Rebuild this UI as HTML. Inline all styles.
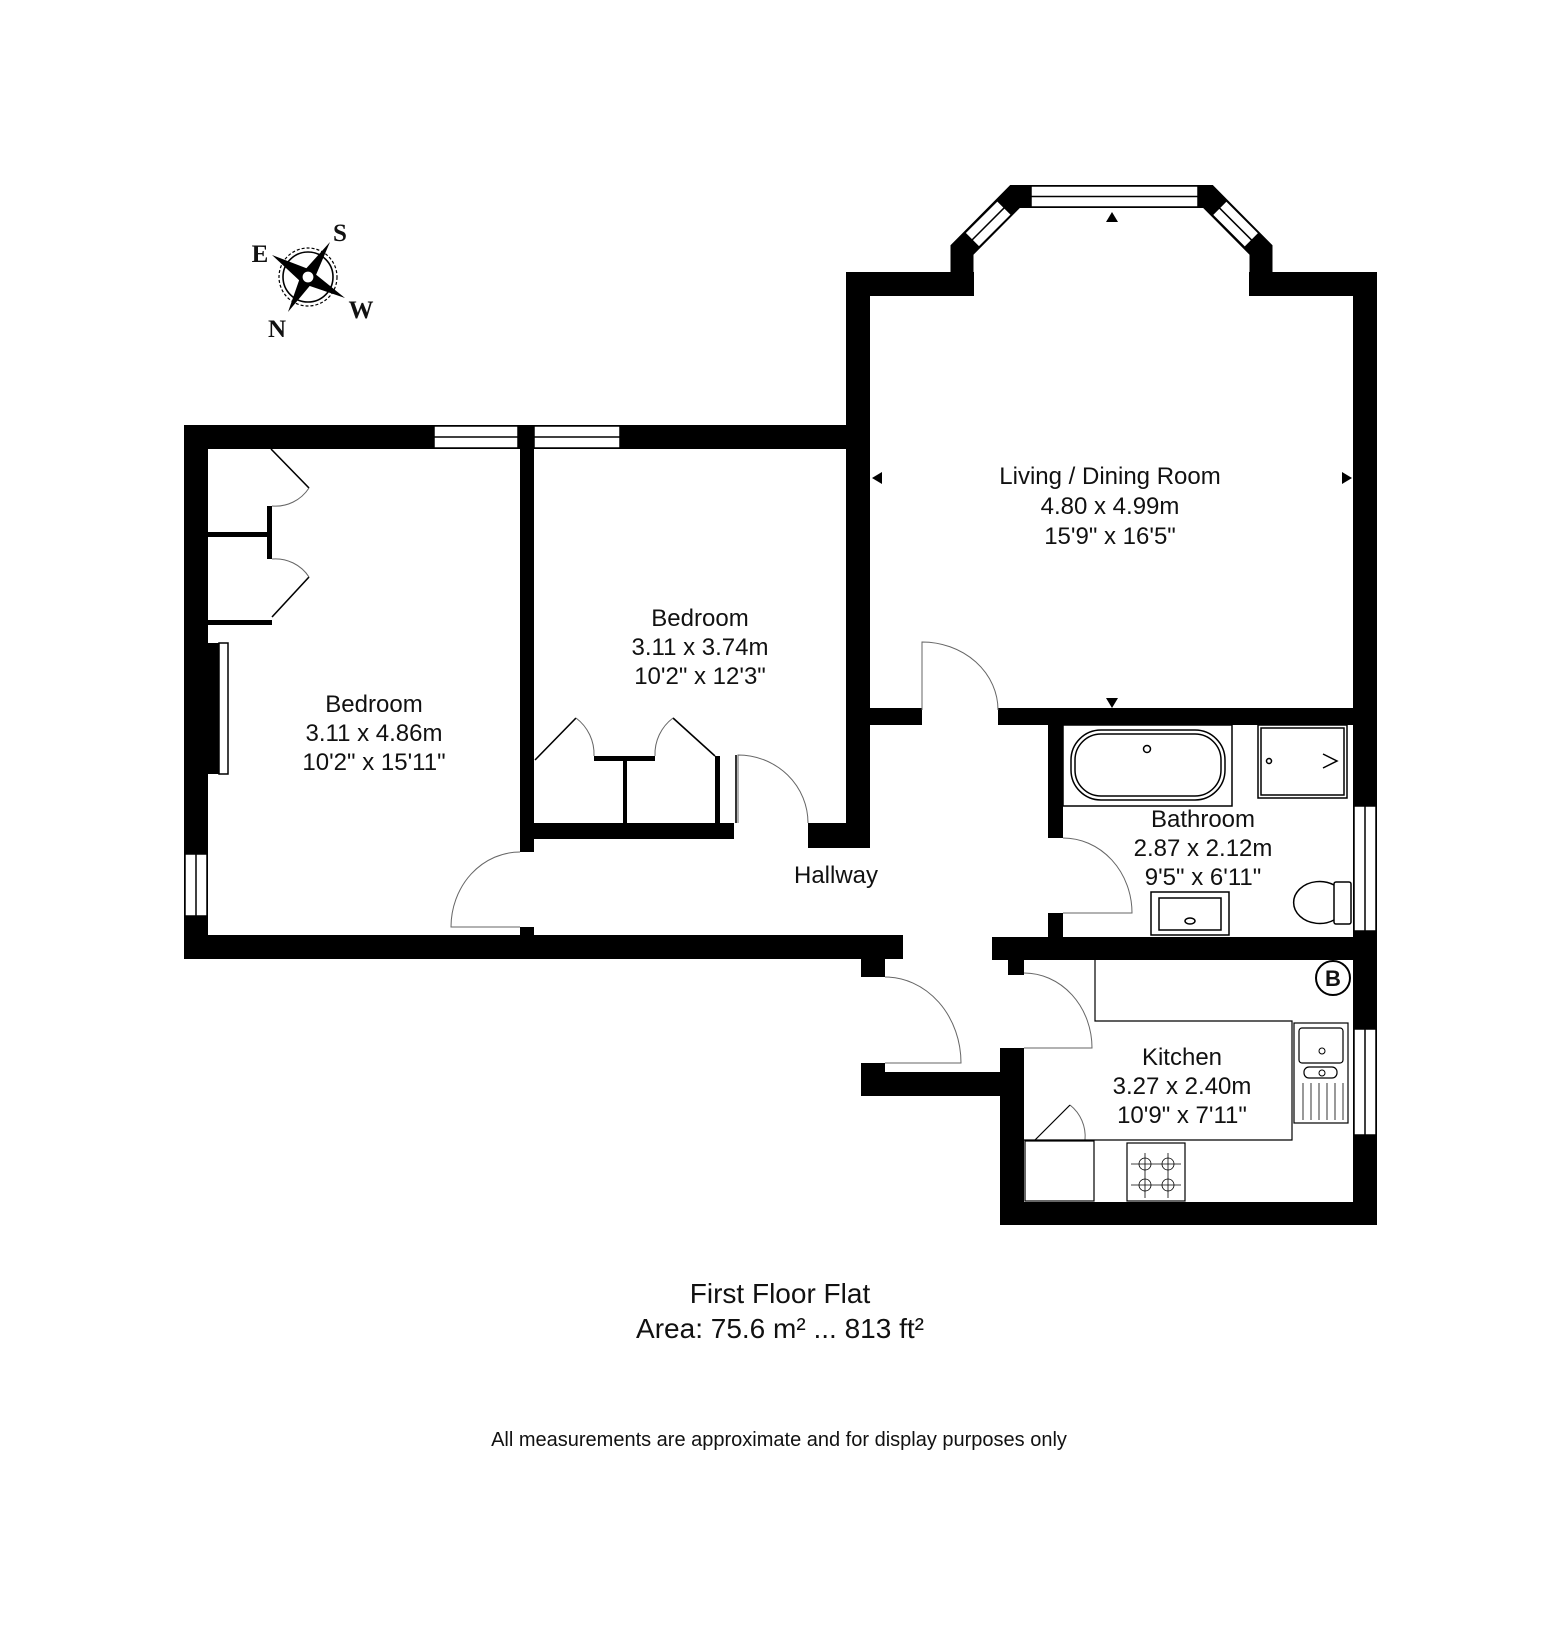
<!DOCTYPE html>
<html><head><meta charset="utf-8"><style>
html,body{margin:0;padding:0;background:#fff;}
svg{display:block;}
text{font-family:"Liberation Sans",Arial,sans-serif;fill:#111;}
</style></head><body>
<svg width="1557" height="1647" viewBox="0 0 1557 1647" xmlns="http://www.w3.org/2000/svg">
<rect width="1557" height="1647" fill="#fff"/>
<g fill="#000">
<rect x="184" y="425" width="662" height="24"/>
<rect x="184" y="425" width="24" height="534"/>
<rect x="184" y="935" width="719" height="24"/>
<rect x="520" y="449" width="14" height="403"/>
<rect x="520" y="927" width="14" height="8"/>
<rect x="534" y="823" width="200" height="16"/>
<rect x="808" y="823" width="62" height="25"/>
<rect x="846" y="272" width="24" height="576"/>
<rect x="846" y="272" width="128" height="24"/>
<rect x="1249" y="272" width="128" height="24"/>
<rect x="1353" y="272" width="24" height="953"/>
<rect x="870" y="708" width="52" height="17"/>
<rect x="998" y="708" width="379" height="17"/>
<rect x="1048" y="725" width="15" height="113"/>
<rect x="1048" y="913" width="15" height="24"/>
<rect x="992" y="937" width="385" height="23"/>
<rect x="861" y="959" width="24" height="18"/>
<rect x="1008" y="959" width="16" height="16"/>
<rect x="861" y="1063" width="24" height="33"/>
<rect x="861" y="1072" width="163" height="24"/>
<rect x="1000" y="1048" width="24" height="177"/>
<rect x="1000" y="1202" width="377" height="23"/>
<polygon points="208,643 219,643 219,774 208,774"/>
</g>
<polyline points="962,296 962,250 1015,196.5 1208,196.5 1261,250 1261,296" fill="none" stroke="#000" stroke-width="23" stroke-linejoin="miter"/>
<g fill="#fff" stroke="#000" stroke-width="1.5">
<rect x="1031" y="186" width="167" height="21"/>
<line x1="1031" y1="196.5" x2="1198" y2="196.5"/>
<g transform="translate(962,250) rotate(-45)"><rect x="14" y="-10" width="46" height="20"/><line x1="14" y1="0" x2="60" y2="0"/></g>
<g transform="translate(1208,196.5) rotate(45)"><rect x="16" y="-10" width="46" height="20"/><line x1="16" y1="0" x2="62" y2="0"/></g>
<rect x="434" y="426" width="84" height="22"/><line x1="434" y1="437" x2="518" y2="437"/>
<rect x="534" y="426" width="86" height="22"/><line x1="534" y1="437" x2="620" y2="437"/>
<rect x="185" y="854" width="22" height="62"/><line x1="196" y1="854" x2="196" y2="916"/>
<rect x="1354" y="806" width="22" height="125"/><line x1="1365" y1="806" x2="1365" y2="931"/>
<rect x="1354" y="1029" width="22" height="106"/><line x1="1365" y1="1029" x2="1365" y2="1135"/>
<rect x="219" y="643" width="9" height="131"/>
</g>
<g fill="#000">
<rect x="267" y="506" width="5" height="53"/>
<rect x="208" y="532" width="64" height="5"/>
<rect x="208" y="620" width="64" height="5"/>
<rect x="594" y="756" width="61" height="5"/>
<rect x="623" y="756" width="4" height="67"/>
<rect x="715" y="756" width="5" height="67"/>
</g>
<g fill="none" stroke="#000" stroke-width="1.6">
<line x1="271" y1="449" x2="309" y2="488"/>
<line x1="272" y1="617" x2="309" y2="577"/>
<line x1="535" y1="760" x2="576" y2="718"/>
<line x1="715" y1="756" x2="673" y2="718"/>
<line x1="736" y1="755" x2="736" y2="823"/>
</g>
<g fill="none" stroke="#666" stroke-width="1">
<path d="M309,488 A40,40 0 0 1 272,506"/>
<path d="M309,577 A40,40 0 0 0 272,559"/>
<path d="M576,718 A45,45 0 0 1 594,756"/>
<path d="M673,718 A45,45 0 0 0 655,756"/>
<path d="M738,823 L738,755 A70,68 0 0 1 808,823"/>
<path d="M520,927 L451,927 A69,75 0 0 1 520,852"/>
<path d="M922,710 L922,642 A76,68 0 0 1 998,710"/>
<path d="M1063,913 L1132,913 A69,75 0 0 0 1063,838"/>
<path d="M885,1063 L961,1063 A76,86 0 0 0 885,977"/>
<path d="M1024,1048 L1092,1048 A68,75 0 0 0 1024,973"/>
<path d="M1070,1105 A40,40 0 0 1 1085,1140"/>
</g>
<g fill="#000">
<polygon points="872,478 882,472 882,484"/>
<polygon points="1352,478 1342,472 1342,484"/>
<polygon points="1112,212 1106,222 1118,222"/>
<polygon points="1112,708 1106,698 1118,698"/>
</g>
<g fill="none" stroke="#000" stroke-width="1.5">
<rect x="1063" y="725" width="169" height="81"/>
<rect x="1071" y="730" width="154" height="70" rx="30"/>
<rect x="1075" y="734" width="146" height="62" rx="26"/>
<circle cx="1147" cy="749" r="3.5"/>
<rect x="1258" y="725" width="89" height="73"/>
<rect x="1261" y="728" width="83" height="67"/>
<circle cx="1269" cy="761" r="2.5"/>
<path d="M1323,754 L1337,761 L1323,768"/>
<rect x="1151" y="892" width="78" height="43"/>
<rect x="1159" y="898" width="62" height="32"/>
<ellipse cx="1190" cy="921" rx="5" ry="3"/>
<rect x="1334" y="882" width="17" height="42" rx="2"/>
<path d="M1334,885 A26,21 0 1 0 1334,920"/>
<path d="M1095,960 L1095,1021 L1292,1021 L1292,1140 L1024,1140" stroke-width="1.2"/>
<rect x="1025" y="1141" width="69" height="60" stroke-width="1.2"/>
<rect x="1127" y="1143" width="58" height="58" stroke-width="1.2"/>
<rect x="1294" y="1023" width="54" height="100" stroke-width="1.2"/>
<rect x="1299" y="1028" width="44" height="35" rx="3" stroke-width="1.2"/>
<rect x="1304" y="1067" width="33" height="11" rx="5" stroke-width="1.2"/>
<circle cx="1322" cy="1051" r="3" stroke-width="1"/>
<circle cx="1322" cy="1073" r="3" stroke-width="1"/>
<line x1="1035" y1="1140" x2="1070" y2="1105" stroke-width="1.2"/>
<circle cx="1333" cy="978" r="17" stroke-width="2"/>
</g>
<g stroke="#000" stroke-width="0.8" fill="none">
<line x1="1303" y1="1083" x2="1303" y2="1120"/><line x1="1311" y1="1083" x2="1311" y2="1120"/><line x1="1319" y1="1083" x2="1319" y2="1120"/><line x1="1327" y1="1083" x2="1327" y2="1120"/><line x1="1335" y1="1083" x2="1335" y2="1120"/><line x1="1343" y1="1083" x2="1343" y2="1120"/>
<circle cx="1145" cy="1164" r="6"/><circle cx="1168" cy="1164" r="6"/><circle cx="1145" cy="1185" r="6"/><circle cx="1168" cy="1185" r="6"/>
<line x1="1131" y1="1164" x2="1181" y2="1164"/><line x1="1131" y1="1185" x2="1181" y2="1185"/><line x1="1145" y1="1153" x2="1145" y2="1198"/><line x1="1168" y1="1153" x2="1168" y2="1198"/>
</g>
<text x="1333" y="986" font-size="22" font-weight="bold" text-anchor="middle">B</text>
<g>
<circle cx="308" cy="277" r="29" fill="none" stroke="#000" stroke-width="1.2" stroke-dasharray="3,2"/>
<circle cx="308" cy="277" r="25" fill="none" stroke="#000" stroke-width="1.6"/>
<polygon points="330,242 313,282 303,272" fill="#000"/>
<polygon points="272,255 311,270 301,282" fill="#000"/>
<polygon points="345,298 304,284 314,273" fill="#000"/>
<polygon points="288,312 302,272 313,282" fill="#000"/>
<circle cx="308" cy="277" r="6" fill="#fff" stroke="#000" stroke-width="1.2"/>
<g font-weight="bold" font-size="25">
<text x="340" y="241" text-anchor="middle" style="font-family:'Liberation Serif',serif">S</text>
<text x="260" y="262" text-anchor="middle" style="font-family:'Liberation Serif',serif">E</text>
<text x="361" y="318" text-anchor="middle" style="font-family:'Liberation Serif',serif">W</text>
<text x="277" y="337" text-anchor="middle" style="font-family:'Liberation Serif',serif">N</text>
</g>
</g>
<g font-size="24" text-anchor="middle">
<text x="1110" y="484">Living / Dining Room</text>
<text x="1110" y="514">4.80 x 4.99m</text>
<text x="1110" y="544">15'9" x 16'5"</text>
<text x="700" y="626">Bedroom</text>
<text x="700" y="655">3.11 x 3.74m</text>
<text x="700" y="684">10'2" x 12'3"</text>
<text x="374" y="712">Bedroom</text>
<text x="374" y="741">3.11 x 4.86m</text>
<text x="374" y="770">10'2" x 15'11"</text>
<text x="836" y="883">Hallway</text>
<text x="1203" y="827">Bathroom</text>
<text x="1203" y="856">2.87 x 2.12m</text>
<text x="1203" y="885">9'5" x 6'11"</text>
<text x="1182" y="1065">Kitchen</text>
<text x="1182" y="1094">3.27 x 2.40m</text>
<text x="1182" y="1123">10'9" x 7'11"</text>
<text x="780" y="1303" font-size="28">First Floor Flat</text>
<text x="780" y="1338" font-size="28">Area: 75.6 m² ... 813 ft²</text>
<text x="779" y="1446" font-size="20">All measurements are approximate and for display purposes only</text>
</g>
</svg>
</body></html>
